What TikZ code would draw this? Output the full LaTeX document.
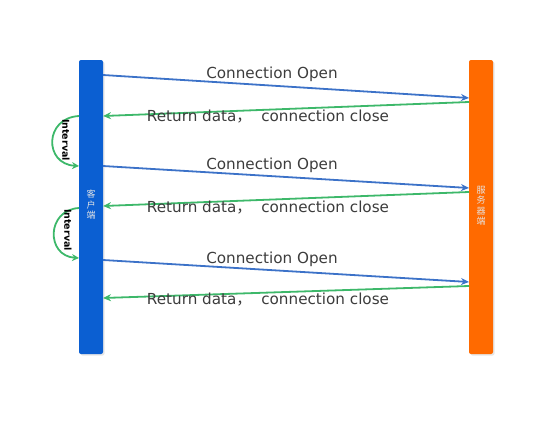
\documentclass[tikz,border=0pt]{standalone}
\usepackage{fontspec}
\setmainfont{DejaVu Sans}
\newfontfamily\cjk{Noto Sans CJK SC}
\usetikzlibrary{arrows.meta,shadows}
\definecolor{barblue}{HTML}{0B5FD2}
\definecolor{barorange}{HTML}{FF6A00}
\definecolor{lineblue}{HTML}{3C72C8}
\definecolor{linegreen}{HTML}{3DB86A}
\definecolor{txt}{HTML}{3C3C3C}
\tikzset{
  bar/.style={rounded corners=2pt, draw=none, minimum width=24pt, minimum height=294pt, inner sep=0pt,
    drop shadow={opacity=0.2, shadow xshift=1.5pt, shadow yshift=-1.5pt}},
  openarrow/.style={draw=lineblue, line width=1.8pt, -{Stealth[length=8pt,width=7pt]}},
  closearrow/.style={draw=linegreen, line width=1.8pt, -{Stealth[length=8pt,width=7pt]}},
  lbl/.style={text=txt, font=\fontsize{15.2}{17}\selectfont, inner sep=0pt},
  intarc/.style={draw=linegreen, line width=1.8pt, -{Stealth[length=7pt,width=7pt]}},
  intlbl/.style={text=black, font=\bfseries\fontsize{9.5}{10}\selectfont, rotate=-90, inner sep=0pt},
  vlabel/.style={text=white!80!gray, font=\cjk\fontsize{9}{10.5}\selectfont, align=center, inner sep=0pt}
}
\begin{document}
\begin{tikzpicture}[x=1pt,y=-1pt]
\useasboundingbox (0,0) rectangle (560,439);
\node[bar, fill=barblue] (client) at (91,207) {};
\node[bar, fill=barorange] (server) at (481,207) {};
\node[vlabel] (clabel) at (91,205) {客\\户\\端};
\node[vlabel] (slabel) at (481,206) {服\\务\\器\\端};
% coordinates on bars
\coordinate (c1) at (103,75);  \coordinate (s1) at (469,98);
\coordinate (s2) at (469,102); \coordinate (c2) at (103,116);
\coordinate (c3) at (103,166); \coordinate (s3) at (469,188);
\coordinate (s4) at (469,192); \coordinate (c4) at (103,206);
\coordinate (c5) at (103,260); \coordinate (s5) at (469,282);
\coordinate (s6) at (469,286); \coordinate (c6) at (103,298);
\draw[openarrow] (c1) -- (s1);
\draw[closearrow] (s2) -- (c2);
\draw[openarrow] (c3) -- (s3);
\draw[closearrow] (s4) -- (c4);
\draw[openarrow] (c5) -- (s5);
\draw[closearrow] (s6) -- (c6);
\node[lbl] (o1) at (272,74) {Connection Open};
\node[lbl] (r1) at (268,117) {Return data{\cjk ，}\ \ connection close};
\node[lbl] (o2) at (272,165) {Connection Open};
\node[lbl] (r2) at (268,208) {Return data{\cjk ，}\ \ connection close};
\node[lbl] (o3) at (272,259) {Connection Open};
\node[lbl] (r3) at (268,300) {Return data{\cjk ，}\ \ connection close};
% interval arcs
\coordinate (a1s) at (79,116); \coordinate (a1e) at (79,166);
\coordinate (a2s) at (79,208); \coordinate (a2e) at (79,258);
\draw[intarc] (a1s) .. controls (44,118) and (44,164) .. (a1e);
\draw[intarc] (a2s) .. controls (46,210) and (46,256) .. (a2e);
\node[intlbl] (i1) at (66,140) {Interval};
\node[intlbl] (i2) at (68,230) {Interval};
\end{tikzpicture}
\end{document}
